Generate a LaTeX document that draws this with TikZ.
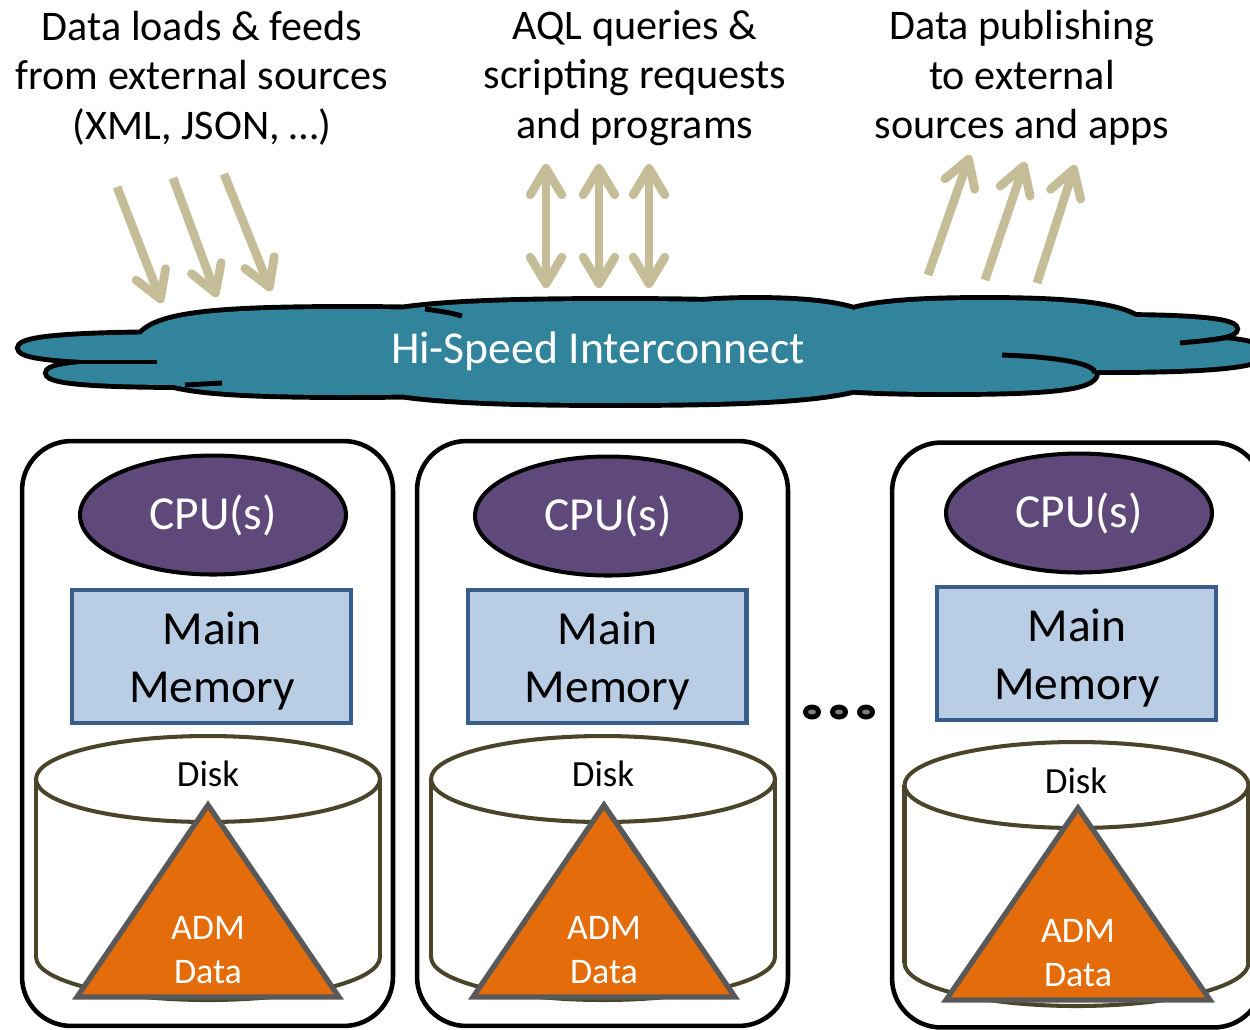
\documentclass[tikz,border=0pt]{standalone}
\usepackage{fontspec}
\setmainfont{Carlito}
\usetikzlibrary{arrows.meta,shapes.geometric}

\definecolor{cloudteal}{HTML}{31849B}
\definecolor{cpupurple}{HTML}{5F497A}
\definecolor{memfill}{HTML}{B9CDE5}
\definecolor{memline}{HTML}{385D8A}
\definecolor{diskline}{HTML}{4A452A}
\definecolor{admorange}{HTML}{E46C0A}
\definecolor{trigray}{HTML}{595959}
\definecolor{flowtan}{HTML}{C4BD97}
\definecolor{dotgray}{HTML}{7F7F7F}

% One flattened lobe of the interconnect cloud:
% #1 left end, #2 right end, #3 centre line, #4 half height, #5 end rounding length
\newcommand\puff[5]{%
  (#1,#3) .. controls (#1,#3-0.8*#4) and (#1+#5,#3-#4) .. ({(#1+#2)/2},#3-#4)
  .. controls (#2-#5,#3-#4) and (#2,#3-0.8*#4) .. (#2,#3)
  .. controls (#2,#3+0.8*#4) and (#2-#5,#3+#4) .. ({(#1+#2)/2},#3+#4)
  .. controls (#1+#5,#3+#4) and (#1,#3+0.8*#4) .. (#1,#3) -- cycle }

\newcommand\cloudlobes{%
  \puff{20}{400}{348}{14}{70}
  \puff{48}{330}{373}{12}{60}
  \puff{135}{560}{352}{43}{50}
  \puff{330}{900}{352}{51}{70}
  \puff{620}{890}{345}{45}{60}
  \puff{820}{1150}{338}{38}{60}
  \puff{800}{1095}{373}{19}{50}
  \puff{1000}{1235}{329}{12}{60}
  \puff{950}{1265}{353}{17}{70}}

% Disk drum: #1 centre x, #2 top rim y, #3 bottom rim y
\newcommand\drum[3]{%
  \filldraw[drum] (#1,#3) ellipse [x radius=3.44cm, y radius=0.86cm];
  \fill[white] (#1-172,#2) rectangle (#1+172,#3);
  \draw[drum] (#1-172,#2) -- (#1-172,#3) (#1+172,#2) -- (#1+172,#3);
  \filldraw[drum] (#1,#2) ellipse [x radius=3.44cm, y radius=0.86cm];}

\begin{document}
\begin{tikzpicture}[x=0.02cm, y=-0.02cm,
  headtext/.style={font=\fontsize{24}{28.3}\selectfont, align=center, inner sep=0pt},
  flow/.style={draw=flowtan, line width=5pt,
    -{Straight Barb[length=15pt, width=18pt, round]}},
  flowboth/.style={draw=flowtan, line width=5pt,
    {Straight Barb[length=15pt, width=18pt, round]}-{Straight Barb[length=15pt, width=18pt, round]}},
  server/.style={draw, line width=2.6pt, rounded corners=28pt,
    minimum width=7.42cm, minimum height=11.7cm, inner sep=0pt},
  cpu/.style={ellipse, draw, line width=2.3pt, fill=cpupurple, text=white,
    minimum width=5.32cm, minimum height=2.38cm, inner sep=0pt,
    font=\fontsize{27}{32}\selectfont},
  mem/.style={rectangle, draw=memline, fill=memfill, line width=2.3pt,
    minimum width=5.58cm, minimum height=2.66cm, inner sep=0pt},
  memtext/.style={align=center, inner sep=0pt, font=\fontsize{27}{33}\selectfont},
  drum/.style={draw=diskline, line width=2.3pt, fill=white},
  admtri/.style={draw=trigray, fill=admorange, line width=3pt, line join=miter},
  disklabel/.style={font=\fontsize{21}{25}\selectfont, inner sep=0pt},
  admlabel/.style={text=white, align=center, inner sep=0pt,
    font=\fontsize{20.5}{25}\selectfont},
  dotmark/.style={ellipse, draw, fill=dotgray, line width=2.8pt,
    minimum width=0.26cm, minimum height=0.2cm, inner sep=0pt},
  innerarc/.style={draw, line width=2.8pt},
]
\useasboundingbox (0,0) rectangle (1250,1029);

% ---- headings ----
\node[headtext] (feeds) at (202,78) {Data loads \& feeds\\from external sources\\(XML, JSON, …)};
\node[headtext] (queries) at (635,78) {AQL queries \&\\scripting requests\\and programs};
\node[headtext] (publish) at (1022,78) {Data publishing\\to external\\sources and apps};

% ---- incoming feeds ----
\coordinate (in1a) at (117,187); \coordinate (in1b) at (162,303);
\coordinate (in2a) at (173,178); \coordinate (in2b) at (217,297);
\coordinate (in3a) at (224,174); \coordinate (in3b) at (271,291);
\draw[flow] (in1a) -- (in1b);
\draw[flow] (in2a) -- (in2b);
\draw[flow] (in3a) -- (in3b);

% ---- request / response traffic ----
\coordinate (rq1a) at (546,164); \coordinate (rq1b) at (546,288);
\coordinate (rq2a) at (599,164); \coordinate (rq2b) at (599,288);
\coordinate (rq3a) at (649,164); \coordinate (rq3b) at (649,288);
\draw[flowboth] (rq1a) -- (rq1b);
\draw[flowboth] (rq2a) -- (rq2b);
\draw[flowboth] (rq3a) -- (rq3b);

% ---- outgoing publishing ----
\coordinate (out1a) at (928,275); \coordinate (out1b) at (970,155);
\coordinate (out2a) at (985,280); \coordinate (out2b) at (1025,162);
\coordinate (out3a) at (1037,283); \coordinate (out3b) at (1075,165);
\draw[flow] (out1a) -- (out1b);
\draw[flow] (out2a) -- (out2b);
\draw[flow] (out3a) -- (out3b);

% ---- interconnect cloud: outline of the union, then fill, then inner folds ----
\path[draw=black, line width=5.6pt] \cloudlobes;
\path[fill=cloudteal] \cloudlobes;
\path[innerarc] (60,362) -- (157,362);
\path[innerarc] (185,385) -- (222,383);
\path[innerarc] (425,309) .. controls (440,311) and (452,313) .. (462,316);
\path[innerarc] (1002,355) .. controls (1060,357) and (1095,364) .. (1095,373);
\path[innerarc] (1230,337) .. controls (1215,340) and (1200,341) .. (1180,343);
\node[text=white, font=\fontsize{26}{30}\selectfont, inner sep=0pt] (net) at (598,351) {Hi-Speed Interconnect};

% ---- server nodes ----
\node[server] (srv1) at (207.5,733.5) {};
\node[server] (srv2) at (602.5,733.5) {};
\node[server] (srv3) at (1077.5,735) {};

\node[cpu] (cpu1) at (213,515) {CPU(s)};
\node[cpu] (cpu2) at (608,516) {CPU(s)};
\node[cpu] (cpu3) at (1079,513) {CPU(s)};

\node[mem] (mem1) at (211.5,656.5) {};
\node[mem] (mem2) at (607,656.5) {};
\node[mem] (mem3) at (1076.5,653.5) {};
\node[memtext] (mem1t) at (212,661) {Main\\Memory};
\node[memtext] (mem2t) at (607.5,661) {Main\\Memory};
\node[memtext] (mem3t) at (1077,658) {Main\\Memory};

% disks
\drum{208}{779}{957}
\drum{603}{779}{957}
\drum{1076.5}{785}{963}
\node[disklabel] (disk1) at (208,774) {Disk};
\node[disklabel] (disk2) at (603,774) {Disk};
\node[disklabel] (disk3) at (1076,781) {Disk};

% ADM data triangles
\filldraw[admtri] (208,805) -- (77,997) -- (339,997) -- cycle;
\filldraw[admtri] (604,805) -- (473,997) -- (735,997) -- cycle;
\filldraw[admtri] (1078,808) -- (946,1000) -- (1210,1000) -- cycle;
\node[admlabel] (adm1) at (208,950) {ADM\\Data};
\node[admlabel] (adm2) at (604,950) {ADM\\Data};
\node[admlabel] (adm3) at (1078,953) {ADM\\Data};

% ellipsis between servers
\node[dotmark] (dot1) at (812,712) {};
\node[dotmark] (dot2) at (839,712) {};
\node[dotmark] (dot3) at (866,712) {};
\end{tikzpicture}
\end{document}
